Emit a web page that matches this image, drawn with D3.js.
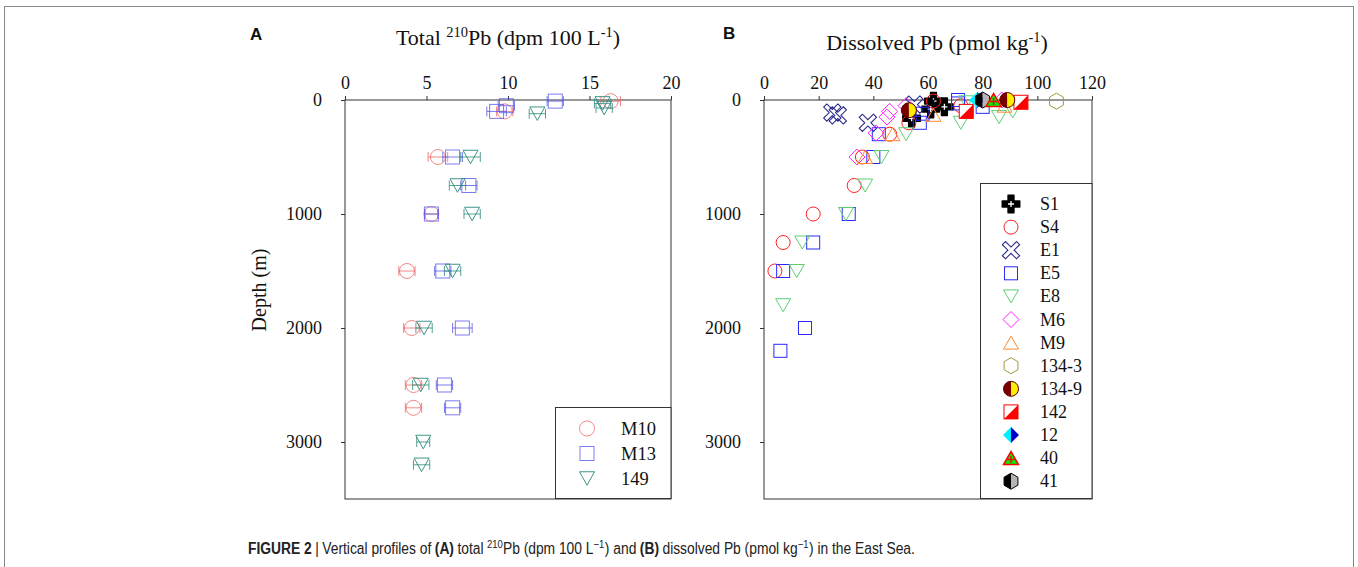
<!DOCTYPE html>
<html><head><meta charset="utf-8">
<script src="https://cdn.jsdelivr.net/npm/d3@7"></script>
<style>
body{margin:0;background:#fff;}
svg{display:block;}
</style></head>
<body><svg id="c" width="1358" height="567"></svg>
<script>
// ---------- Panel A data (Total 210Pb, dpm 100 L-1) ----------
const depthTicks = [0, 1000, 2000, 3000];
const aTicks = [0, 5, 10, 15, 20];
const bTicks = [0, 20, 40, 60, 80, 100, 120];

const aSeriesNames = ["M10", "M13", "149"];
const m10Val = [16.3, 9.8, 5.7, 5.3, 3.8, 4.1, 4.2, 4.2];
const m10Dep = [10, 100, 500, 1000, 1500, 2000, 2500, 2700];
const m10Err = [0.6, 0.5, 0.6, 0.4, 0.5, 0.5, 0.5, 0.5];

const m13Val = [12.9, 9.9, 9.3, 6.6, 7.6, 5.3, 6.0, 7.2, 6.1, 6.6];
const m13Dep = [10, 50, 100, 500, 750, 1000, 1500, 2000, 2500, 2700];
const m13Err = [0.5, 0.5, 0.6, 0.6, 0.5, 0.4, 0.5, 0.6, 0.5, 0.5];

const s149Val = [15.8, 15.9, 11.8, 7.7, 6.9, 7.8, 6.6, 4.85, 4.65, 4.8, 4.7];
const s149Dep = [30, 70, 120, 500, 750, 1000, 1500, 2000, 2500, 3000, 3200];
const s149Err = [0.5, 0.5, 0.5, 0.6, 0.5, 0.5, 0.5, 0.5, 0.5, 0.4, 0.5];

// ---------- Panel B data (Dissolved Pb, pmol kg-1) ----------
const bSeriesNames = ["S1","S4","E1","E5","E8","M6","M9","134-3","134-9","142","12","40","41"];
const s1Val = [62, 66, 61, 54];          const s1Dep = [10, 60, 80, 160];
const s4Val = [62, 72, 53, 46, 36, 33, 18, 7, 4];
const s4Dep = [10, 50, 200, 300, 500, 750, 1000, 1250, 1500];
const e1Val = [55, 25, 27, 38];           const e1Dep = [40, 110, 135, 200];
const e5Val = [71, 71, 80, 58, 57, 42, 40, 31, 18, 7, 15, 6];
const e5Dep = [0, 30, 60, 120, 200, 300, 500, 1000, 1250, 1500, 2000, 2200];
const e8Val = [74, 91, 86, 72, 52, 43, 37, 30, 14, 12, 7];
const e8Dep = [20, 100, 150, 200, 300, 500, 750, 1000, 1250, 1500, 1800];
const m6Val = [87, 52, 46, 45, 41, 34];   const m6Dep = [0, 50, 100, 150, 290, 500];
const m9Val = [88, 62, 47, 37];           const m9Dep = [50, 130, 300, 500];
const s1343Val = [107];                   const s1343Dep = [10];
const s1349Val = [53, 89];                const s1349Dep = [90, 0];
const s142Val = [74, 94];                 const s142Dep = [100, 20];
const s12Val = [78];                      const s12Dep = [0];
const s40Val = [84];                      const s40Dep = [0];
const s41Val = [80];                      const s41Dep = [0];

// ---------- setup ----------
const svg = d3.select("#c");
const FONT = '"Liberation Serif","Times New Roman",serif';
svg.append("rect").attr("x",4.5).attr("y",6.5).attr("width",1349).attr("height",640)
  .attr("fill","none").attr("stroke","#888").attr("stroke-width",1);

const y = d3.scaleLinear().domain([0, 3500]).range([100, 499]);
const xA = d3.scaleLinear().domain([0, 20]).range([345, 671]);
const xB = d3.scaleLinear().domain([0, 120]).range([764, 1092]);

function frame(x, ticks) {
  const g = svg.append("g");
  g.append("rect").attr("x", x.range()[0]).attr("y", y.range()[0])
    .attr("width", x.range()[1]-x.range()[0]).attr("height", y.range()[1]-y.range()[0])
    .attr("fill","none").attr("stroke","#333").attr("stroke-width",1);
  const top = d3.axisTop(x).tickValues(ticks).tickSize(4).tickPadding(7);
  const ga = g.append("g").attr("transform",`translate(0,${y.range()[0]})`).call(top);
  ga.select(".domain").remove();
  ga.selectAll("line").attr("stroke","#333");
  ga.selectAll("text").attr("font-family",FONT).attr("font-size",18).attr("fill","#111");
  const left = d3.axisLeft(y).tickValues(depthTicks).tickSize(4).tickPadding(19).tickFormat(d3.format("d"));
  const gl = g.append("g").attr("transform",`translate(${x.range()[0]},0)`).call(left);
  gl.select(".domain").remove();
  gl.selectAll("line").attr("stroke","#333");
  gl.selectAll("text").attr("font-family",FONT).attr("font-size",18).attr("fill","#111");
  return g;
}
frame(xA, aTicks);
frame(xB, bTicks);

// titles
function title(x, yb, parts) {
  const t = svg.append("text").attr("x", x).attr("y", yb).attr("text-anchor","middle")
    .attr("font-family",FONT).attr("font-size",22).attr("fill","#111");
  parts.forEach(p => {
    const s = t.append("tspan").text(p[0]);
    if (p[1] === "sup") s.attr("font-size",14.5).attr("dy",-8);
    if (p[1] === "down") s.attr("dy",8);
  });
}
title(508, 45, [["Total "],["210","sup"],["Pb (dpm 100 L","down"],["-1","sup"],[")","down"]]);
title(937, 50, [["Dissolved Pb (pmol kg"],["-1","sup"],[")","down"]]);
svg.append("text").attr("x",250).attr("y",40).text("A").attr("font-family","Liberation Sans, Arial, sans-serif")
  .attr("font-weight","bold").attr("font-size",17).attr("fill","#111");
svg.append("text").attr("x",723).attr("y",39).text("B").attr("font-family","Liberation Sans, Arial, sans-serif")
  .attr("font-weight","bold").attr("font-size",17).attr("fill","#111");
svg.append("text").attr("transform","translate(266,290) rotate(-90)").attr("text-anchor","middle")
  .attr("font-family",FONT).attr("font-size",20).attr("fill","#111").text("Depth (m)");

// ---------- marker drawing ----------
const triDown = (w,h) => `M${-w/2},${-h/2}L${w/2},${-h/2}L0,${h/2}Z`;
const triUp = (w,h) => `M${-w/2},${h/2}L${w/2},${h/2}L0,${-h/2}Z`;
function hexPath(r){ let p=""; for(let i=0;i<6;i++){const a=Math.PI/180*(60*i-90); p+=(i?"L":"M")+(r*Math.cos(a)).toFixed(2)+","+(r*Math.sin(a)).toFixed(2);} return p+"Z"; }
const crossOutline = "M-2.2,-10L2.2,-10L2.2,-2.2L10,-2.2L10,2.2L2.2,2.2L2.2,10L-2.2,10L-2.2,2.2L-10,2.2L-10,-2.2L-2.2,-2.2Z";

function drawMarker(g, type, cx, cy) {
  const m = g.append("g").attr("transform",`translate(${cx},${cy})`);
  switch(type) {
    case "M10": m.append("circle").attr("r",7.5).attr("fill","none").attr("stroke","#f06a6a").attr("stroke-opacity",0.8); break;
    case "M13": m.append("rect").attr("x",-7).attr("y",-7).attr("width",14).attr("height",14).attr("fill","none").attr("stroke","#5a5aee").attr("stroke-opacity",0.8); break;
    case "149": m.append("path").attr("d",triDown(15,13.5)).attr("fill","none").attr("stroke","#2a8a7c").attr("stroke-opacity",0.9); break;
    case "S1":
      m.append("path").attr("d",d3.symbol(d3.symbolCross,170)()).attr("fill","#000").attr("stroke","#000").attr("stroke-width",1.5).attr("stroke-linejoin","round");
      m.append("path").attr("d","M-3,0H3M0,-3V3").attr("stroke","#fff").attr("stroke-width",1.3); break;
    case "S4": m.append("circle").attr("r",7).attr("fill","none").attr("stroke","#ff2020"); break;
    case "E1": m.append("path").attr("d",crossOutline).attr("transform","rotate(45)").attr("fill","none").attr("stroke","#2a2a8a").attr("stroke-width",1.1); break;
    case "E5": m.append("rect").attr("x",-6.5).attr("y",-6.5).attr("width",13).attr("height",13).attr("fill","none").attr("stroke","#2a2aff"); break;
    case "E8": m.append("path").attr("d",triDown(15,13)).attr("fill","none").attr("stroke","#5ccf74"); break;
    case "M6": m.append("path").attr("d","M0,-8L8,0L0,8L-8,0Z").attr("fill","none").attr("stroke","#ff22ff"); break;
    case "M9": m.append("path").attr("d",triUp(15,13)).attr("fill","none").attr("stroke","#ff8a30"); break;
    case "134-3": m.append("path").attr("d",hexPath(8)).attr("fill","none").attr("stroke","#a39a3c"); break;
    case "134-9":
      m.append("path").attr("d","M0,-7.5A7.5,7.5 0 0,0 0,7.5Z").attr("fill","#7a0000");
      m.append("path").attr("d","M0,-7.5A7.5,7.5 0 0,1 0,7.5Z").attr("fill","#ffee00");
      m.append("circle").attr("r",7.5).attr("fill","none").attr("stroke","#5a0000"); break;
    case "142":
      m.append("rect").attr("x",-7).attr("y",-7).attr("width",14).attr("height",14).attr("fill","#fff").attr("stroke","#ff0000");
      m.append("path").attr("d","M7,-7L7,7L-7,7Z").attr("fill","#ff0000"); break;
    case "12":
      m.append("path").attr("d","M0,-8L0,8L-8,0Z").attr("fill","#00eeff");
      m.append("path").attr("d","M0,-8L8,0L0,8Z").attr("fill","#0000cc"); break;
    case "40":
      m.append("path").attr("d",triUp(15,13)).attr("fill","#00ee00").attr("stroke","#ff0000").attr("stroke-width",1.5);
      m.append("path").attr("d","M-3.5,1.5H3.5M0,-2V5").attr("stroke","#ff0000").attr("stroke-width",1.5); break;
    case "41":
      m.append("path").attr("d","M0,-8L-6.9,-4L-6.9,4L0,8Z").attr("fill","#000");
      m.append("path").attr("d","M0,-8L6.9,-4L6.9,4L0,8Z").attr("fill","#b4b4b4");
      m.append("path").attr("d",hexPath(8)).attr("fill","none").attr("stroke","#000"); break;
  }
  return m;
}

// ---------- Panel A points ----------
const aSets = [
  {name:"M10", v:m10Val, d:m10Dep, e:m10Err, col:"#f06a6a"},
  {name:"M13", v:m13Val, d:m13Dep, e:m13Err, col:"#5a5aee"},
  {name:"149", v:s149Val, d:s149Dep, e:s149Err, col:"#2a8a7c"}
];
const gpA = svg.append("g");
aSets.forEach(s => {
  s.v.forEach((v,i) => {
    const cx = xA(v), cy = y(s.d[i]);
    const x0 = xA(v - s.e[i]), x1 = xA(v + s.e[i]);
    gpA.append("path").attr("d",`M${x0},${cy}H${x1}M${x0},${cy-5}V${cy+5}M${x1},${cy-5}V${cy+5}`)
      .attr("stroke",s.col).attr("stroke-opacity",0.8).attr("fill","none");
    drawMarker(gpA, s.name, cx, cy);
  });
});

// Legend A
svg.append("rect").attr("x",555.5).attr("y",407.5).attr("width",115.5).attr("height",91).attr("fill","#fff").attr("stroke","#333");
aSeriesNames.forEach((n,i) => {
  const ly = 428.5 + i*25;
  drawMarker(svg, n, 587, ly);
  svg.append("text").attr("x",621).attr("y",ly+6).text(n).attr("font-family",FONT).attr("font-size",18.5).attr("fill","#111");
});

// ---------- Panel B points ----------
const bSets = [
  ["S1", s1Val, s1Dep], ["S4", s4Val, s4Dep], ["E1", e1Val, e1Dep], ["E5", e5Val, e5Dep],
  ["E8", e8Val, e8Dep], ["M6", m6Val, m6Dep], ["M9", m9Val, m9Dep], ["134-3", s1343Val, s1343Dep],
  ["142", s142Val, s142Dep], ["134-9", s1349Val, s1349Dep], ["12", s12Val, s12Dep], ["41", s41Val, s41Dep], ["40", s40Val, s40Dep]
];
const gpB = svg.append("g");
bSets.forEach(([n, vals, deps]) => {
  vals.forEach((v,i) => drawMarker(gpB, n, xB(v), y(deps[i])));
});

// Legend B
svg.append("rect").attr("x",980.5).attr("y",183.5).attr("width",111.5).attr("height",315).attr("fill","#fff").attr("stroke","#333");
bSeriesNames.forEach((n,i) => {
  const ly = 204 + i*23.1;
  drawMarker(svg, n, 1011, ly);
  svg.append("text").attr("x",1040).attr("y",ly+6).text(n).attr("font-family",FONT).attr("font-size",18).attr("fill","#111");
});

// ---------- Caption (pieces laid out side by side, condensed) ----------
const capG = svg.append("g");
const capParts = [["FIGURE 2","b"],["|"],["Vertical profiles of"],["(A)","b"],["total"],["210","sup"],["Pb (dpm 100 L"],["\u22121","sup"],[") and"],["(B)","b"],["dissolved Pb (pmol kg"],["\u22121","sup"],[") in the East Sea."]];
const spaceAfter = [4, 4, 4, 4, 4, 0, 0, 0.5, 4, 4, 0, 0.5, 0];
let cursor = 0;
capParts.forEach((p,i) => {
  const t = capG.append("text").attr("x",cursor).attr("y",0).text(p[0])
    .attr("font-family",'"Liberation Sans",Arial,sans-serif').attr("font-size",16).attr("fill","#222");
  if (p[1]==="b") t.attr("font-weight","bold");
  if (p[1]==="sup") t.attr("font-size",11).attr("y",-6);
  cursor += t.node().getComputedTextLength() + spaceAfter[i];
});
const sx = 667 / cursor;
capG.attr("transform",`translate(248,554) scale(${sx},1)`);
</script></body></html>
